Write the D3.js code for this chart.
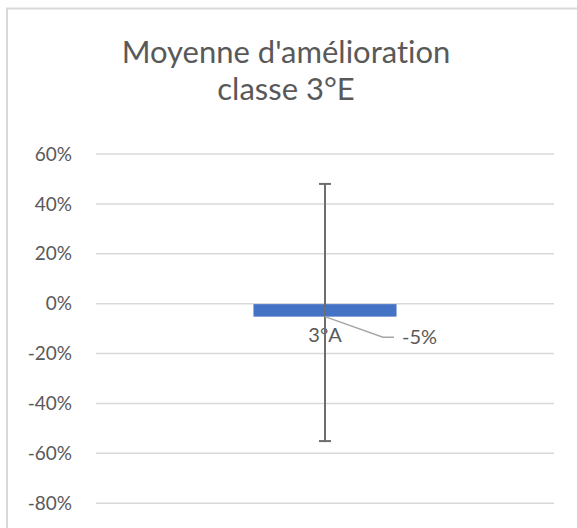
<!DOCTYPE html>
<html>
<head>
<meta charset="utf-8">
<script src="https://cdn.jsdelivr.net/npm/d3@7"></script>
<style>
  body { margin: 0; background: #fff; }
  svg { display: block; font-family: Lato, "Open Sans", sans-serif; font-variant-ligatures: none; }
</style>
</head>
<body>
<div id="chart"></div>
<script>
// data
var categories = ["3°A"];
var values = [-0.054];
var errHigh = [0.478];
var errLow = [-0.553];
var tickValues = [0.6, 0.4, 0.2, 0, -0.2, -0.4, -0.6, -0.8];
var titleLines = ["Moyenne d'amélioration", "classe 3°E"];

var W = 577, H = 528;
var margin = {top: 153.5, left: 96, right: 23, bottom: 25.3};

// excel style percent with a plain hyphen
var pct = function(d) { return d3.format(".0%")(d).replace("−", "-"); };

var svg = d3.select("#chart").append("svg")
  .attr("width", W)
  .attr("height", H);

// chart border (runs off right / bottom of the picture)
svg.append("rect")
  .attr("x", 7).attr("y", 8.5)
  .attr("width", W).attr("height", H)
  .attr("fill", "#fff")
  .attr("stroke", "#d9d9d9")
  .attr("stroke-width", 2);

// title
svg.append("g").selectAll("text")
  .data(titleLines)
  .join("text")
    .attr("x", 286)
    .attr("y", function(d, i) { return 63 + i * 37; })
    .attr("text-anchor", "middle")
    .attr("fill", "#595959")
    .style("font-size", "31px")
    .text(function(d) { return d; });

var y = d3.scaleLinear()
  .domain([-0.8, 0.6])
  .range([H - margin.bottom, margin.top]);

var x = d3.scaleBand()
  .domain(categories)
  .range([margin.left, W - margin.right])
  .padding(0.524);

// gridlines
svg.append("g")
  .attr("transform", "translate(" + margin.left + ",0)")
  .call(d3.axisLeft(y)
    .tickValues(tickValues)
    .tickSize(-(W - margin.right - margin.left))
    .tickFormat(""))
  .call(function(g) {
    g.select(".domain").remove();
    g.selectAll(".tick line").attr("stroke", "#d9d9d9").attr("stroke-width", 1.5);
  });

// y tick labels
svg.append("g")
  .attr("transform", "translate(72,0)")
  .call(d3.axisLeft(y)
    .tickValues(tickValues)
    .tickSize(0)
    .tickPadding(0)
    .tickFormat(pct))
  .call(function(g) {
    g.select(".domain").remove();
    g.selectAll("text")
      .attr("fill", "#595959")
      .style("font-family", "Lato, sans-serif")
      .style("font-size", "19px")
      .attr("dy", "0.35em");
  });

// bars
svg.append("g").selectAll("rect")
  .data(values)
  .join("rect")
    .attr("x", function(d, i) { return x(categories[i]); })
    .attr("y", function(d) { return y(Math.max(0, d)) + 1; })
    .attr("width", x.bandwidth())
    .attr("height", function(d) { return Math.abs(y(d) - y(0)) - 1; })
    .attr("fill", "#4472c4");

// category label
svg.append("g").selectAll("text")
  .data(categories)
  .join("text")
    .attr("x", function(d) { return x(d) + x.bandwidth() / 2; })
    .attr("y", y(0) + 39)
    .attr("text-anchor", "middle")
    .attr("fill", "#595959")
    .style("font-size", "20px")
    .text(function(d) { return d; });

// error bars
var eb = svg.append("g").selectAll("g")
  .data(values)
  .join("g")
    .attr("stroke", "#6d6d6d")
    .attr("stroke-width", 2);
eb.append("line")
  .attr("x1", function(d, i) { return x(categories[i]) + x.bandwidth() / 2; })
  .attr("x2", function(d, i) { return x(categories[i]) + x.bandwidth() / 2; })
  .attr("y1", function(d, i) { return y(errHigh[i]); })
  .attr("y2", function(d, i) { return y(errLow[i]); });
[errHigh, errLow].forEach(function(arr) {
  eb.append("line")
    .attr("x1", function(d, i) { return x(categories[i]) + x.bandwidth() / 2 - 6; })
    .attr("x2", function(d, i) { return x(categories[i]) + x.bandwidth() / 2 + 6; })
    .attr("y1", function(d, i) { return y(arr[i]); })
    .attr("y2", function(d, i) { return y(arr[i]); });
});

// data label with leader line
var cx = x(categories[0]) + x.bandwidth() / 2;
svg.append("polyline")
  .attr("points", [[cx, y(values[0])], [cx + 58, y(values[0]) + 20.5], [cx + 69, y(values[0]) + 20.5]].join(" "))
  .attr("fill", "none")
  .attr("stroke", "#a6a6a6")
  .attr("stroke-width", 1.5);
svg.append("text")
  .attr("x", cx + 77)
  .attr("y", y(values[0]) + 27)
  .attr("fill", "#595959")
  .style("font-size", "20px")
  .text(pct(values[0]));
</script>
</body>
</html>
